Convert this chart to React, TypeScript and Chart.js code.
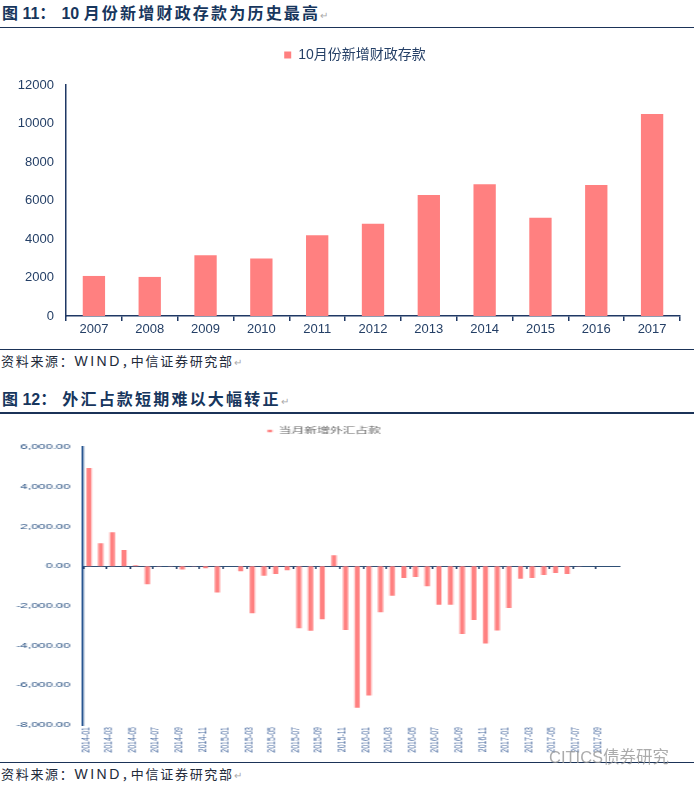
import React, { useEffect, useRef } from 'react';
import { Chart, registerables } from 'chart.js';

Chart.register(...registerables);

// ---------- Data: Figure 11 ----------
const fiscalYears = ['2007', '2008', '2009', '2010', '2011', '2012', '2013', '2014', '2015', '2016', '2017'];
const fiscalDeposits = [2080, 2030, 3160, 2990, 4190, 4790, 6280, 6840, 5100, 6800, 10490];
const fiscalLabel = '10月份新增财政存款';

// ---------- Data: Figure 12 ----------
const fxMonths = [
  '2014-01', '2014-02', '2014-03', '2014-04', '2014-05', '2014-06', '2014-07', '2014-08', '2014-09', '2014-10', '2014-11', '2014-12',
  '2015-01', '2015-02', '2015-03', '2015-04', '2015-05', '2015-06', '2015-07', '2015-08', '2015-09', '2015-10', '2015-11', '2015-12',
  '2016-01', '2016-02', '2016-03', '2016-04', '2016-05', '2016-06', '2016-07', '2016-08', '2016-09', '2016-10', '2016-11', '2016-12',
  '2017-01', '2017-02', '2017-03', '2017-04', '2017-05', '2017-06', '2017-07', '2017-08', '2017-09', '2017-10',
];
const fxValues = [
  4940, 1150, 1710, 810, 40, -910, -20, 10, -170, 10, -100, -1330,
  -10, -260, -2370, -480, -400, -210, -3130, -3250, -2670, 550, -3210, -7130,
  -6510, -2320, -1490, -600, -550, -1010, -1940, -1940, -3420, -2710, -3890, -3240,
  -2110, -630, -600, -450, -340, -390, -20, 0, 0, 0,
];
const fxLabel = '当月新增外汇占款';

const title1Prefix = '图 11：';
const title1Num = '10 ';
const title1Body = '月份新增财政存款为历史最高';
const title2Prefix = '图 12：';
const title2Body = '外汇占款短期难以大幅转正';
const sourceA = '资料来源：';
const sourceB = 'WIND';
const sourceC = '，';
const sourceD = '中信证券研究部';
const watermark = 'CITICS债券研究';

const FONT = '"Liberation Sans", "Noto Sans CJK SC", sans-serif';
const NAVY = '#17365D';
const AXIS = '#1F3864';
const BAR = '#FF8080';

// fixes the legend's height and nudges it sideways
const legendPlugin = (h: number, dx: number) => ({
  id: 'legendTune',
  beforeInit(chart: any) {
    const lg = chart.legend;
    if (!lg) return;
    const fit = lg.fit;
    lg.fit = function () {
      fit.call(this);
      this.height = h;
    };
  },
  afterLayout(chart: any) {
    const lg = chart.legend;
    if (!lg) return;
    lg.left += dx;
    lg.right += dx;
  },
});

function FiscalChart() {
  const ref = useRef<HTMLCanvasElement | null>(null);
  useEffect(() => {
    if (!ref.current) return;
    const tickColor = '#243F66';
    const chart = new Chart(ref.current, {
      type: 'bar',
      data: {
        labels: fiscalYears,
        datasets: [
          {
            label: fiscalLabel,
            data: fiscalDeposits,
            backgroundColor: BAR,
            borderWidth: 0,
            barPercentage: 0.4,
            categoryPercentage: 1,
          },
        ],
      },
      options: {
        animation: false,
        responsive: false,
        devicePixelRatio: 1,
        layout: { padding: { left: 4, right: 14, top: 8, bottom: 0 } },
        plugins: {
          legend: {
            position: 'top',
            labels: { boxWidth: 7, boxHeight: 7, padding: 10, color: tickColor, font: { family: FONT, size: 14 } },
          },
          tooltip: { enabled: false },
        },
        scales: {
          x: {
            grid: { display: true, drawOnChartArea: false, drawTicks: true, tickLength: 5, color: AXIS, lineWidth: 1.5, offset: true },
            border: { display: true, color: AXIS, width: 1.5 },
            ticks: { color: tickColor, font: { family: FONT, size: 13 }, padding: 1, maxRotation: 0, autoSkip: false },
            afterFit: (s: any) => {
              s.height = 32;
            },
          },
          y: {
            min: 0,
            max: 12000,
            ticks: {
              stepSize: 2000,
              color: tickColor,
              font: { family: FONT, size: 13 },
              padding: 12,
              callback: (v: any) => String(v),
            },
            grid: { display: false, drawTicks: false },
            border: { display: true, color: AXIS, width: 1.5 },
            afterFit: (s: any) => {
              s.width = 62;
            },
          },
        },
      },
      plugins: [legendPlugin(47, 13)],
    } as any);
    return () => chart.destroy();
  }, []);
  return (
    <canvas
      ref={ref}
      width={694}
      height={318}
      style={{ position: 'absolute', left: 0, top: 30, width: 694, height: 318 }}
    />
  );
}

function FxChart() {
  const ref = useRef<HTMLCanvasElement | null>(null);
  useEffect(() => {
    if (!ref.current) return;
    const chart = new Chart(ref.current, {
      type: 'bar',
      data: {
        labels: fxMonths,
        datasets: [
          {
            label: fxLabel,
            data: fxValues,
            backgroundColor: BAR,
            borderWidth: 0,
            barPercentage: 0.43,
            categoryPercentage: 1,
          },
        ],
      },
      options: {
        animation: false,
        responsive: false,
        devicePixelRatio: 1,
        layout: { padding: { left: 2, right: 46.5, top: 8, bottom: 0 } },
        plugins: {
          legend: {
            position: 'top',
            labels: { boxWidth: 3, boxHeight: 2.5, padding: 4, color: '#666666', font: { family: FONT, size: 8 } },
          },
          tooltip: { enabled: false },
        },
        scales: {
          x: {
            grid: { display: false, drawTicks: false },
            border: { display: false },
            ticks: {
              autoSkip: false,
              minRotation: 90,
              maxRotation: 90,
              padding: 2,
              labelOffset: -2,
              color: '#4F6FA3',
              font: { family: FONT, size: 7 },
              callback: (_v: any, i: number) => (i % 2 === 0 ? fxMonths[i] : ''),
            },
            afterFit: (s: any) => {
              s.height = 36;
            },
          },
          x0: {
            type: 'category',
            position: { y: 0 },
            offset: true,
            ticks: { display: false },
            grid: {
              display: true,
              drawOnChartArea: false,
              drawTicks: true,
              tickLength: 2,
              offset: true,
              color: (ctx: any) => (ctx.index % 2 === 0 ? AXIS : 'rgba(0,0,0,0)'),
            },
            border: { display: true, color: '#2F4F75', width: 1 },
          },
          y: {
            min: -8000,
            max: 6000,
            ticks: {
              stepSize: 2000,
              padding: 8,
              color: '#1F497D',
              font: { family: FONT, size: 8 },
              callback: (v: any) =>
                Number(v).toLocaleString('en-US', { minimumFractionDigits: 2, maximumFractionDigits: 2 }),
            },
            grid: { display: false, drawTicks: false },
            border: { display: true, color: '#1F4E8C', width: 1.3 },
            afterFit: (s: any) => {
              s.width = 50;
            },
          },
        },
      },
      plugins: [legendPlugin(24, 8)],
    } as any);
    return () => chart.destroy();
  }, []);
  return (
    <canvas
      ref={ref}
      width={434}
      height={346}
      style={{ position: 'absolute', left: 0, top: 415, width: 694, height: 346 }}
    />
  );
}

const retStyle: React.CSSProperties = { fontSize: 10, color: '#aaaaaa', fontWeight: 'normal', letterSpacing: 0 };

function Title({ top, prefix, num, body, spacing }: { top: number; prefix: string; num?: string; body: string; spacing: number }) {
  return (
    <div
      style={{
        position: 'absolute',
        left: 2,
        top,
        fontSize: 16,
        lineHeight: '20px',
        fontWeight: 'bold',
        color: NAVY,
        fontFamily: FONT,
        whiteSpace: 'nowrap',
      }}
    >
      <span>{prefix}</span>
      {num ? <span style={{ marginLeft: 6 }}>{num}</span> : null}
      <span style={{ marginLeft: num ? 0 : 6, letterSpacing: `${spacing}px` }}>{body}</span>
      <span style={retStyle}>↵</span>
    </div>
  );
}

function Source({ top }: { top: number }) {
  return (
    <div
      style={{
        position: 'absolute',
        left: 1,
        top,
        fontSize: 13,
        lineHeight: '18px',
        color: '#222a3a',
        fontFamily: FONT,
        whiteSpace: 'nowrap',
        letterSpacing: '1.7px',
      }}
    >
      <span>{sourceA}</span>
      <span style={{ letterSpacing: '2.5px', fontSize: 14 }}>{sourceB}</span>
      <span style={{ letterSpacing: '-4px' }}>{sourceC}</span>
      <span>{sourceD}</span>
      <span style={retStyle}>↵</span>
    </div>
  );
}

function Rule({ top, h = 1.5 }: { top: number; h?: number }) {
  return <div style={{ position: 'absolute', left: 0, top, width: 694, height: h, background: '#1B3358' }} />;
}

export default function App() {
  return (
    <div
      style={{
        position: 'absolute',
        left: 0,
        top: 0,
        width: 694,
        height: 789,
        background: '#ffffff',
        overflow: 'hidden',
      }}
    >
      <Title top={4} prefix={title1Prefix} num={title1Num} body={title1Body} spacing={2.2} />
      <Rule top={26.5} />
      <FiscalChart />
      <Rule top={348.5} h={1.2} />
      <Source top={352} />
      <Title top={390} prefix={title2Prefix} body={title2Body} spacing={2.2} />
      <Rule top={412} />
      <FxChart />
      <Rule top={761.5} h={1.2} />
      <Source top={765} />
      <div
        style={{
          position: 'absolute',
          left: 549,
          top: 747,
          fontSize: 16.5,
          lineHeight: '20px',
          color: 'rgba(150,150,150,0.8)',
          fontFamily: FONT,
          whiteSpace: 'nowrap',
        }}
      >
        {watermark}
      </div>
    </div>
  );
}
